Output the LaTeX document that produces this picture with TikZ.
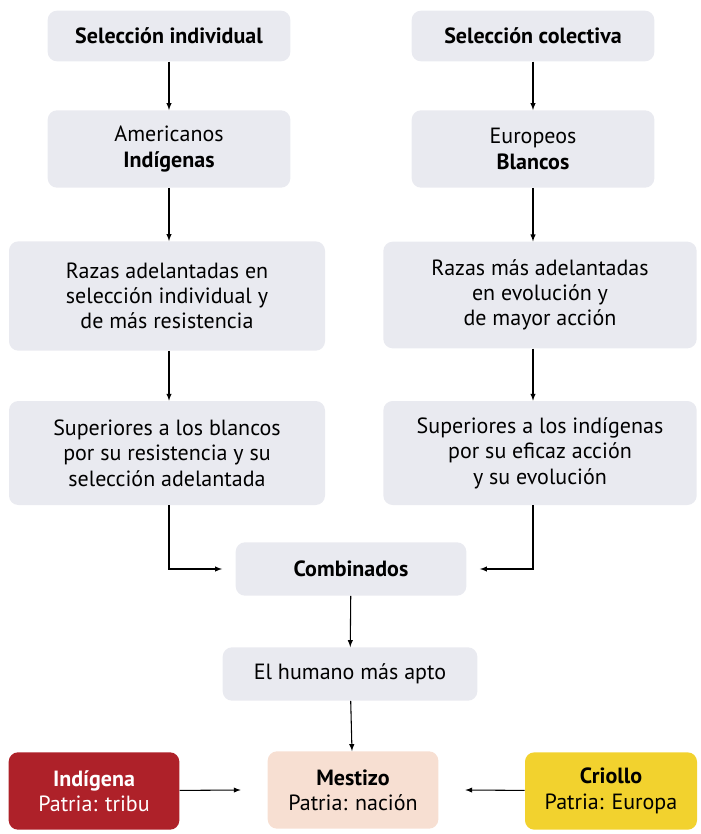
\documentclass[tikz,border=0pt]{standalone}
\usepackage{fontspec}
\setmainfont{PT Sans}
\usetikzlibrary{positioning}
\definecolor{boxgray}{HTML}{E9EAF0}
\definecolor{indred}{HTML}{AE2129}
\definecolor{crioyel}{HTML}{F2D22E}
\definecolor{mespeach}{HTML}{F7DFD2}
\tikzset{
  box/.style={fill=boxgray, rounded corners=7pt, align=center, inner sep=0pt,
    font=\fontsize{16.5}{19}\selectfont},
  arr/.style={-latex, thick},
}
\begin{document}
\begin{tikzpicture}[x=0.75pt, y=-0.75pt]
    \useasboundingbox (0,0) rectangle (700,834);

    % --- columna izquierda ---
    \node[box, minimum width=182pt, minimum height=38pt] (selind) at (169,36) {\textbf{Selección individual}};
    \node[box, minimum width=182pt, minimum height=58pt] (amer) at (169,149) {Americanos\\\textbf{Indígenas}};
    \node[box, minimum width=237pt, minimum height=82pt] (razind) at (167,296) {Razas adelantadas en\\selección individual y\\de más resistencia};
    \node[box, minimum width=237pt, minimum height=78pt] (supind) at (167,453) {Superiores a los blancos\\por su resistencia y su\\selección adelantada};

    % --- columna derecha ---
    \node[box, minimum width=182pt, minimum height=38pt] (selcol) at (533,36) {\textbf{Selección colectiva}};
    \node[box, minimum width=182pt, minimum height=58pt] (euro) at (533,149) {Europeos\\\textbf{Blancos}};
    \node[box, minimum width=235pt, minimum height=80pt] (razcol) at (540,295) {Razas más adelantadas\\en evolución y\\de mayor acción};
    \node[box, minimum width=235pt, minimum height=78pt] (supcol) at (540,453) {Superiores a los indígenas\\por su eficaz acción\\y su evolución};

    % --- centro ---
    \node[box, minimum width=173pt, minimum height=40pt] (comb) at (351,569) {\textbf{Combinados}};
    \node[box, minimum width=191pt, minimum height=40pt] (apto) at (350,674) {El humano más apto};

    % --- fila inferior ---
    \node[box, fill=indred, text=white, minimum width=128pt, minimum height=58pt] (indigena) at (94,791) {\textbf{Indígena}\\Patria: tribu};
    \node[box, fill=mespeach, minimum width=128pt, minimum height=58pt] (mestizo) at (353,790) {\textbf{Mestizo}\\Patria: nación};
    \node[box, fill=crioyel, minimum width=129pt, minimum height=58pt] (criollo) at (611,791) {\textbf{Criollo}\\Patria: Europa};

    % flechas
    \draw[arr] (selind) -- (amer);
    \draw[arr] (amer) -- (razind.north -| amer);
    \draw[arr] (razind.south -| amer) -- (supind.north -| amer);
    \draw[arr] (selcol) -- (euro);
    \draw[arr] (euro) -- (razcol.north -| euro);
    \draw[arr] (razcol.south -| euro) -- (supcol.north -| euro);
    \draw[arr] (supind.south -| amer) |- ([xshift=-10pt]comb.west);
    \draw[arr] (supcol.south -| euro) |- ([xshift=10pt]comb.east);
    \draw[arr] (comb) -- (apto);
    \draw[arr] (apto) -- (mestizo);
    \draw[arr] (indigena) -- ([xshift=-20pt]mestizo.west);
    \draw[arr] (criollo) -- ([xshift=20pt]mestizo.east);
\end{tikzpicture}
\end{document}
